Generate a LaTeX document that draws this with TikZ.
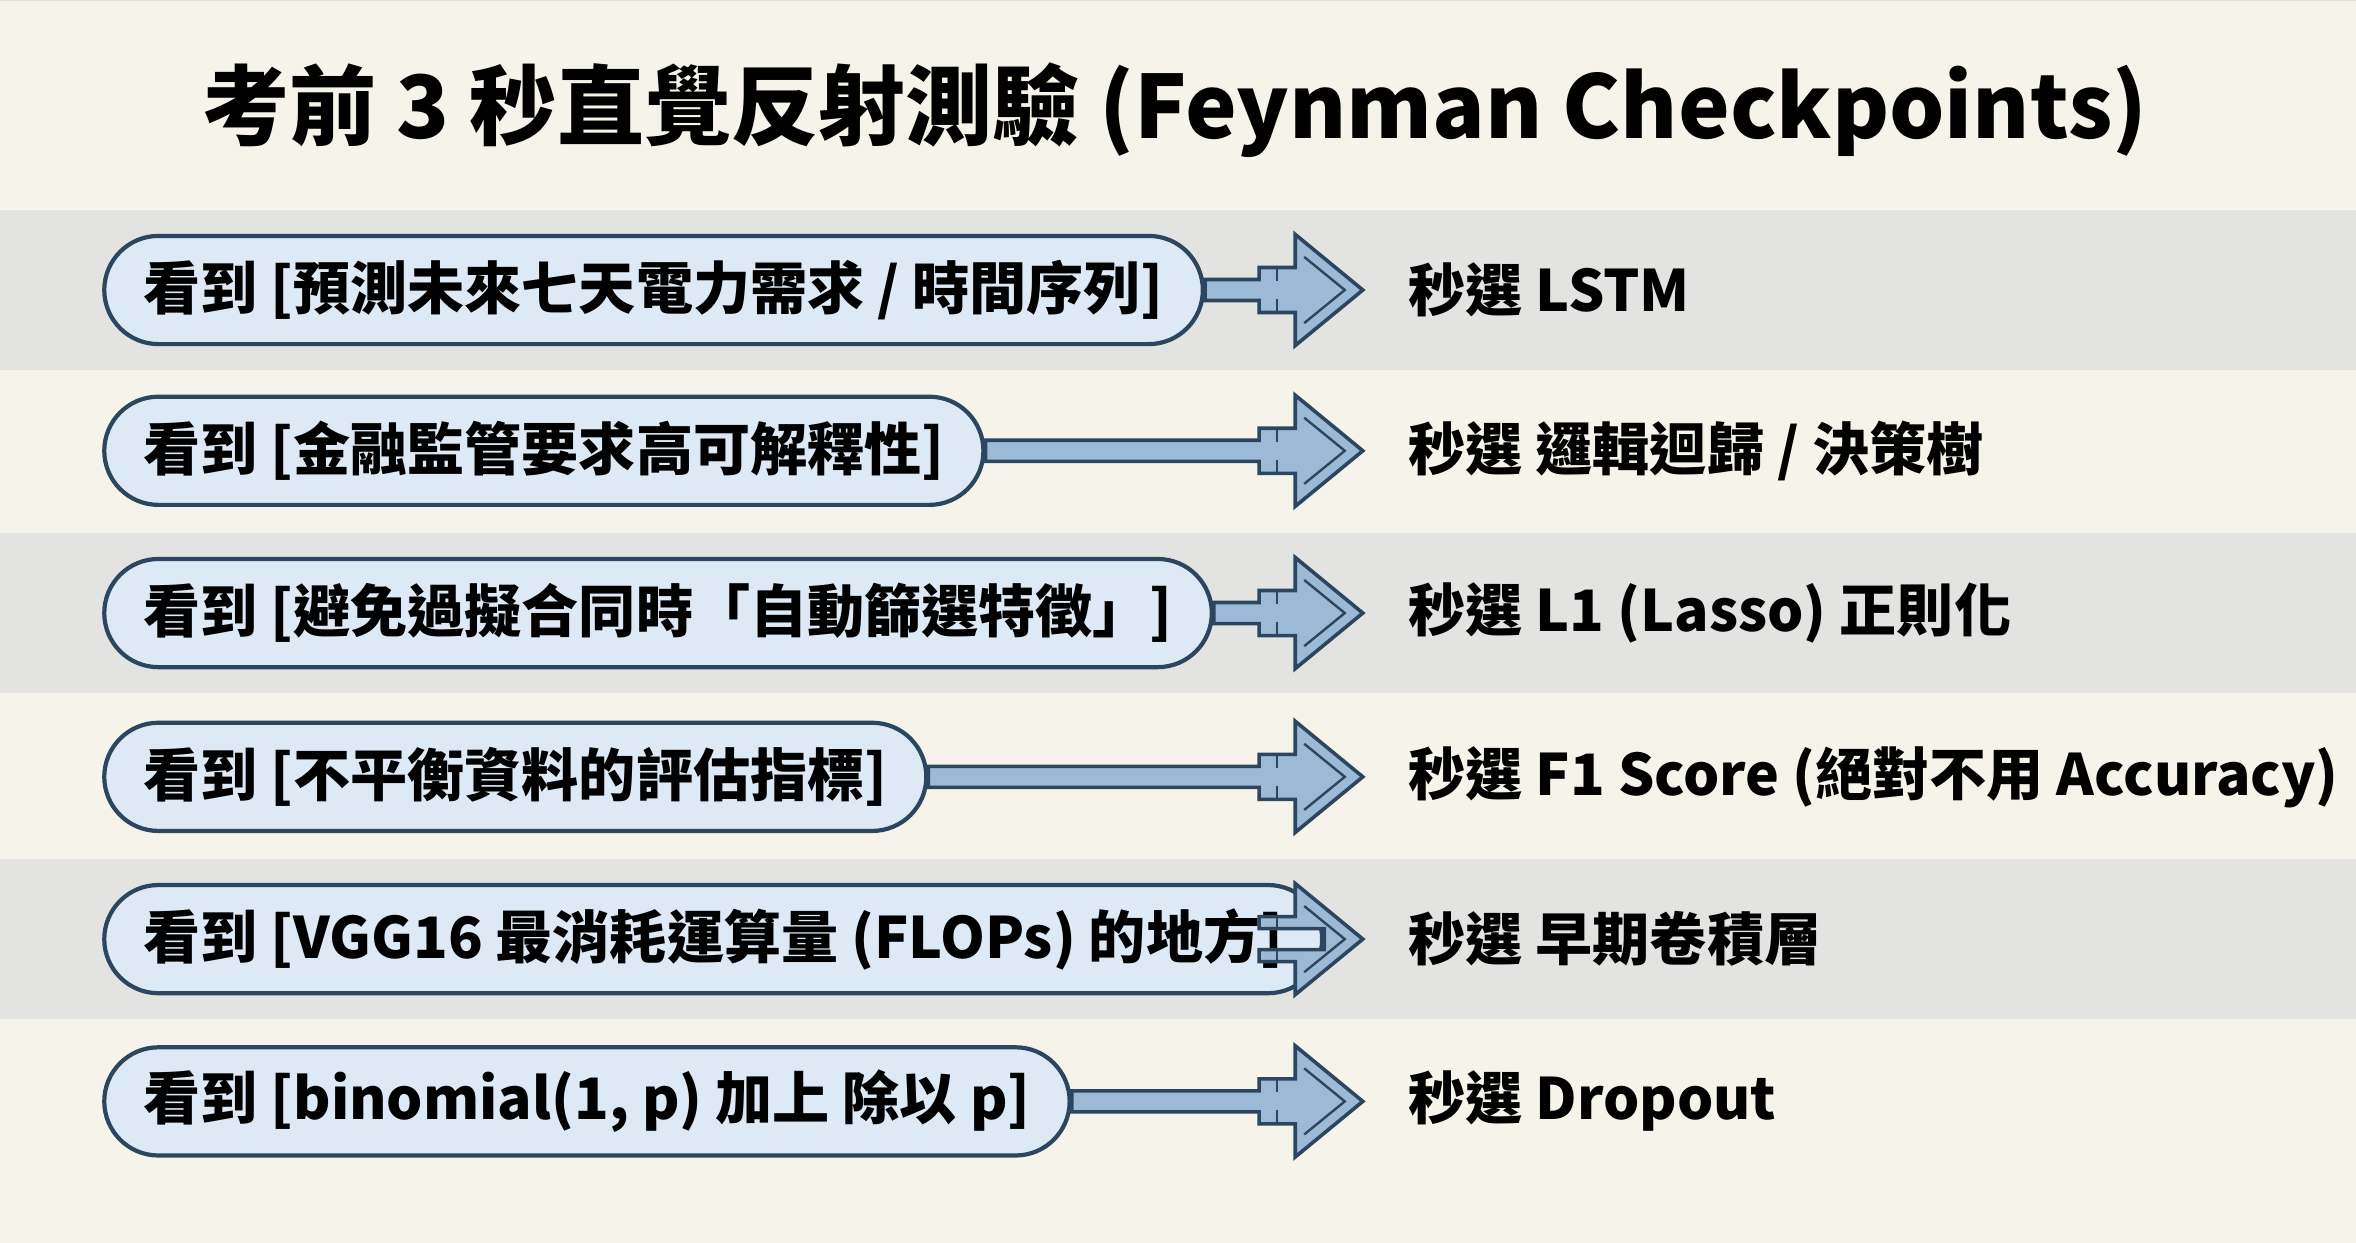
\documentclass[tikz,border=0pt]{standalone}
\usepackage{fontspec}
\setmainfont{Noto Sans CJK TC}
\usetikzlibrary{positioning}
\definecolor{paper}{HTML}{F6F4EA}
\definecolor{gridln}{HTML}{E2E0D6}
\definecolor{band}{HTML}{E3E3E1}
\definecolor{pillfill}{HTML}{DDEAF6}
\definecolor{edge}{HTML}{2C4660}
\definecolor{arrowfill}{HTML}{9CBAD5}

\tikzset{
  pill/.style={draw=edge, line width=1.4pt, fill=pillfill, rounded corners=18pt,
    minimum height=36pt, inner xsep=13pt, anchor=west, font=\fontsize{19}{22}\selectfont\bfseries},
  pick/.style={anchor=west, inner sep=0pt, font=\fontsize{19}{22}\selectfont\bfseries},
  fatarrow/.style={draw=edge, line width=1.2pt, fill=arrowfill, line join=miter}
}

% one row: #1 name, #2 y, #3 question, #4 answer
\newcommand{\checkrow}[4]{
  \node[pill] (q#1) at (68,#2) {看到 [#3]};
  \coordinate (t#1) at (907,#2);
  \node[pick] (a#1) at (937,#2) {秒選 #4};
  \path[fatarrow] (q#1.east) ++(0,-7) -- (838,#2-7) -- (838,#2-15) -- (862,#2-15) -- (862,#2-37)
    -- (t#1) -- (862,#2+37) -- (862,#2+15) -- (838,#2+15) -- (838,#2+7) -- ($(q#1.east)+(0,7)$) -- cycle;
  \draw[edge, line width=0.8pt] (868,#2-22) -- (895,#2) -- (868,#2+22);
  \draw[edge, line width=0.8pt] (850,#2-15) -- (850,#2-6) (850,#2+6) -- (850,#2+15);
}
\usetikzlibrary{calc}

\begin{document}
\begin{tikzpicture}[x=0.5pt, y=-0.5pt]
  \fill[paper] (0,0) rectangle (1568,827);
  \useasboundingbox (0,0) rectangle (1568,827);
  \draw[gridln, line width=0.5pt, step=20.5pt] (0,0) grid (1568,-827);
  \foreach \y in {140,355,572} {
    \fill[band] (0,\y) rectangle (1568,\y+106);
  }

  \node[font=\fontsize{29}{34}\selectfont\bfseries] (title) at (782,73)
    {考前 3 秒直覺反射測驗 (Feynman Checkpoints)};

  \checkrow{1}{193}{預測未來七天電力需求 / 時間序列}{LSTM}
  \checkrow{2}{300}{金融監管要求高可解釋性}{邏輯迴歸 / 決策樹}
  \checkrow{3}{408}{避免過擬合同時「自動篩選特徵」}{L1 (Lasso) 正則化}
  \checkrow{4}{517}{不平衡資料的評估指標}{F1 Score (絕對不用 Accuracy)}
  \checkrow{5}{625}{VGG16 最消耗運算量 (FLOPs) 的地方}{早期卷積層}
  \checkrow{6}{733}{binomial(1, p) 加上 除以 p}{Dropout}
\end{tikzpicture}
\end{document}
